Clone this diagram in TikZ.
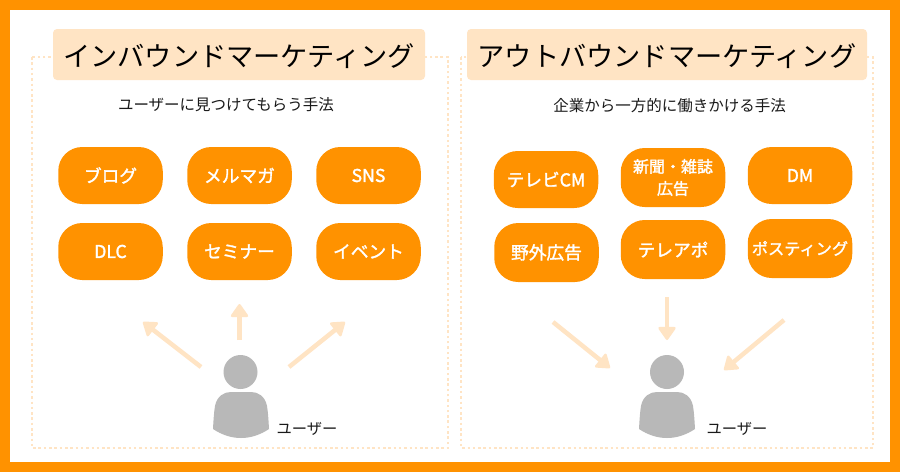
\documentclass[tikz,border=0pt]{standalone}
\usepackage{fontspec}
\setmainfont{Noto Sans CJK JP}
\newfontfamily\medfont[FakeBold=1.6]{Noto Sans CJK JP}
\usetikzlibrary{arrows.meta,positioning}
\pgfdeclarelayer{background layer}
\pgfsetlayers{background layer,main}
\definecolor{frameorange}{HTML}{FF9200}
\definecolor{paleorange}{HTML}{FFE4C4}
\definecolor{usergrey}{HTML}{B8B8B8}
\definecolor{inkgrey}{HTML}{1A1A1A}
\newcommand{\fsize}[1]{\fontsize{#1}{#1}\selectfont}

\begin{document}
\begin{tikzpicture}[x=1pt,y=-1pt,node distance=129pt]
\tikzstyle{titlebox}=[fill=paleorange,rounded corners=4pt,minimum height=51pt,inner sep=0pt,text=black]
\tikzstyle{subtitle}=[text=inkgrey,inner sep=0pt]
\tikzstyle{method}=[fill=frameorange,rounded corners=24pt,minimum width=104.5pt,minimum height=57pt,inner sep=0pt,text=white,align=center,font=\fsize{17.7}\medfont]
\tikzstyle{arrow}=[paleorange,line width=4.5pt,-{Triangle[width=19pt,length=14pt,round,line width=2.5pt]}]
\tikzstyle{dotbox}=[paleorange,line width=2.7pt,dash pattern=on 2.5pt off 2.8pt]
\tikzstyle{userbody}=[fill=usergrey]
\tikzstyle{userhead}=[circle,fill=usergrey,minimum size=34pt,inner sep=0pt]
\tikzstyle{userlabel}=[text=inkgrey,inner sep=0pt,font=\fsize{15.3}]
\useasboundingbox (0,0) rectangle (900,472);
\begin{pgfonlayer}{background layer}
\fill [frameorange] (0,0) rectangle (900,472);
\fill [white] (10,10) rectangle (890,462);
\end{pgfonlayer}
\draw [dotbox] (32,57) rectangle (448,448);
\draw [dotbox] (461,57) rectangle (873,448);
% titles
\node [titlebox,minimum width=372pt] at (239,54.5) (inboundtitle) {};
\node [titlebox,minimum width=400pt] at (667,54.5) (outboundtitle) {};
\node [inner sep=0pt,text=black,font=\fsize{27.2}] at (239,56.5) (inboundtext) {インバウンドマーケティング};
\node [inner sep=0pt,text=black,font=\fsize{27.2}] at (667,56.5) (outboundtext) {アウトバウンドマーケティング};
\node [subtitle,font=\fsize{15.5}] at (226,104.5) (inboundsub) {ユーザーに見つけてもらう手法};
\node [subtitle,font=\fsize{15.5}] at (669.5,105.5) (outboundsub) {企業から一方的に働きかける手法};
% inbound methods
\node [method] at (110.5,175.5) (blog) {ブログ};
\node [method,right of=blog] (mailmag) {メルマガ};
\node [method,right of=mailmag] (sns) {SNS};
\node [method,below of=blog,node distance=76pt] (dlc) {DLC};
\node [method,below of=mailmag,node distance=76pt] (seminar) {セミナー};
\node [method,below of=sns,node distance=76pt] (event) {イベント};
% outbound methods
\node [method] at (546,179.5) (tvcm) {テレビCM};
\node [method,minimum height=59pt,font=\fsize{16}\medfont] at (673,177.5) (paper) {新聞・雑誌\\[6pt]広告};
\node [method] at (800,175.5) (dm) {DM};
\node [method,minimum height=59pt] at (546.5,252.5) (outdoor) {野外広告};
\node [method,minimum height=59pt] at (673,249.5) (teleapo) {テレアポ};
\node [method,minimum height=59pt,font=\fsize{16.2}\medfont] at (800,248.5) (posting) {ポスティング};
% users
\node [userhead] at (240.5,372) (inhead) {};
\node [userhead] at (667,372) (outhead) {};
\foreach \ux in {241,667}
  \fill [userbody] (\ux-28,429) .. controls (\ux-27.5,420) and (\ux-27,412) .. (\ux-26,406)
    .. controls (\ux-24,396) and (\ux-17,392) .. (\ux-10,392) -- (\ux+10,392)
    .. controls (\ux+17,392) and (\ux+24,396) .. (\ux+26,406)
    .. controls (\ux+27,412) and (\ux+27.5,420) .. (\ux+28,429)
    .. controls (\ux+10,441) and (\ux-10,441) .. (\ux-28,429) -- cycle;
\node [userlabel] at (307,428.5) (inuser) {ユーザー};
\node [userlabel] at (737,428.5) (outuser) {ユーザー};
% arrows
\coordinate (a1) at (201,367);
\coordinate (a2) at (143,322);
\coordinate (a3) at (239.5,340);
\coordinate (a4) at (239.5,304);
\coordinate (a5) at (289,367);
\coordinate (a6) at (345,322);
\coordinate (b1) at (553,322);
\coordinate (b2) at (610,368);
\coordinate (b3) at (667,297);
\coordinate (b4) at (667,340);
\coordinate (b5) at (784,320);
\coordinate (b6) at (724,370);
\draw [arrow] (a1) -- (a2);
\draw [arrow] (a3) -- (a4);
\draw [arrow] (a5) -- (a6);
\draw [arrow] (b1) -- (b2);
\draw [arrow] (b3) -- (b4);
\draw [arrow] (b5) -- (b6);
\end{tikzpicture}
\end{document}
